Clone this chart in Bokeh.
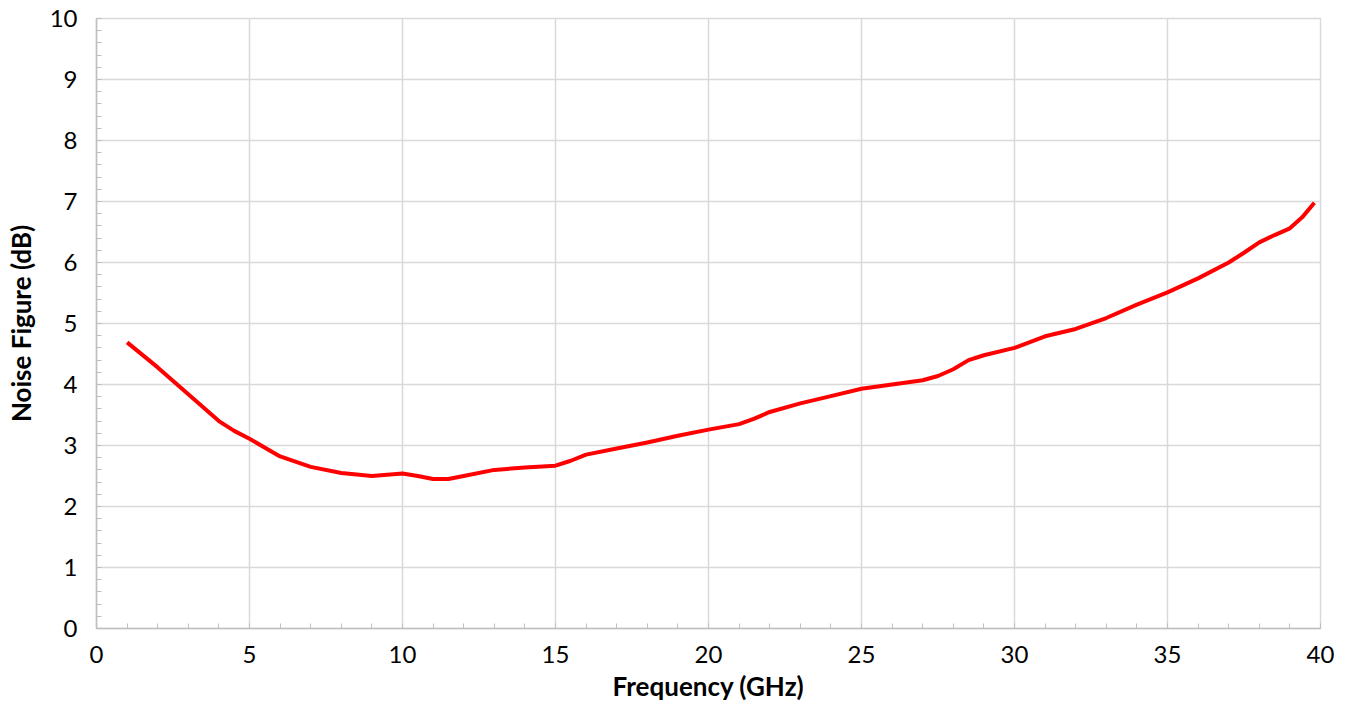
from bokeh.plotting import figure
from bokeh.models import SingleIntervalTicker, Range1d
from bokeh.embed import file_html
from bokeh.resources import INLINE

freq_ghz = [1, 2, 3, 4, 4.5, 5, 6, 7, 8, 9, 10, 10.5, 11, 11.5, 12, 13, 14, 15, 15.5, 16, 17, 18, 19, 20,
            21, 21.5, 22, 23, 24, 25, 26, 27, 27.5, 28, 28.5, 29, 30, 31, 32, 33, 34, 35, 36, 37, 37.5, 38, 38.5, 39, 39.4, 39.8]
noise_figure_db = [4.69, 4.28, 3.84, 3.40, 3.24, 3.11, 2.82, 2.65, 2.55, 2.50, 2.54, 2.50, 2.45, 2.45, 2.50,
                   2.60, 2.64, 2.67, 2.75, 2.85, 2.95, 3.05, 3.16, 3.26, 3.35, 3.44, 3.55, 3.69, 3.81,
                   3.93, 4.00, 4.07, 4.14, 4.25, 4.40, 4.48, 4.60, 4.79, 4.91, 5.09, 5.31, 5.51, 5.74,
                   6.00, 6.16, 6.33, 6.45, 6.56, 6.74, 6.98]

FONT = "Lato"

p = figure(width=1348, height=713, output_backend="svg", toolbar_location=None,
           x_range=Range1d(0, 40), y_range=Range1d(0, 10),
           min_border_left=96, min_border_right=28, min_border_top=18, min_border_bottom=85)
p.background_fill_color = "white"
p.border_fill_color = "white"
p.outline_line_color = "#d9d9d9"
p.outline_line_width = 1.5

p.line(freq_ghz, noise_figure_db, line_color="#ff0000", line_width=4, line_join="round")

p.xaxis.ticker = SingleIntervalTicker(interval=5, num_minor_ticks=5)
p.yaxis.ticker = SingleIntervalTicker(interval=1, num_minor_ticks=5)

for ax in (p.xaxis[0], p.yaxis[0]):
    ax.axis_line_color = "#bfbfbf"
    ax.axis_line_width = 1.5
    ax.major_tick_line_color = "#bfbfbf"
    ax.minor_tick_line_color = "#bfbfbf"
    ax.major_tick_in = 5
    ax.major_tick_out = 0
    ax.minor_tick_in = 5
    ax.minor_tick_out = 0
    ax.major_label_text_font = FONT
    ax.major_label_text_font_size = "24px"
    ax.major_label_text_color = "#000000"
    ax.axis_label_text_font = FONT
    ax.axis_label_text_font_size = "26px"
    ax.axis_label_text_font_style = "bold"
    ax.axis_label_text_color = "#000000"

p.xaxis.axis_label = "Frequency (GHz)"
p.yaxis.axis_label = "Noise Figure (dB)"
p.xaxis.major_label_standoff = 17
p.yaxis.major_label_standoff = 19
p.xaxis.axis_label_standoff = 4
p.yaxis.axis_label_standoff = 10

p.xgrid.grid_line_color = "#d9d9d9"
p.ygrid.grid_line_color = "#d9d9d9"
p.xgrid.grid_line_width = 1.5
p.ygrid.grid_line_width = 1.5

open("out.html", "w").write(file_html(p, INLINE))
